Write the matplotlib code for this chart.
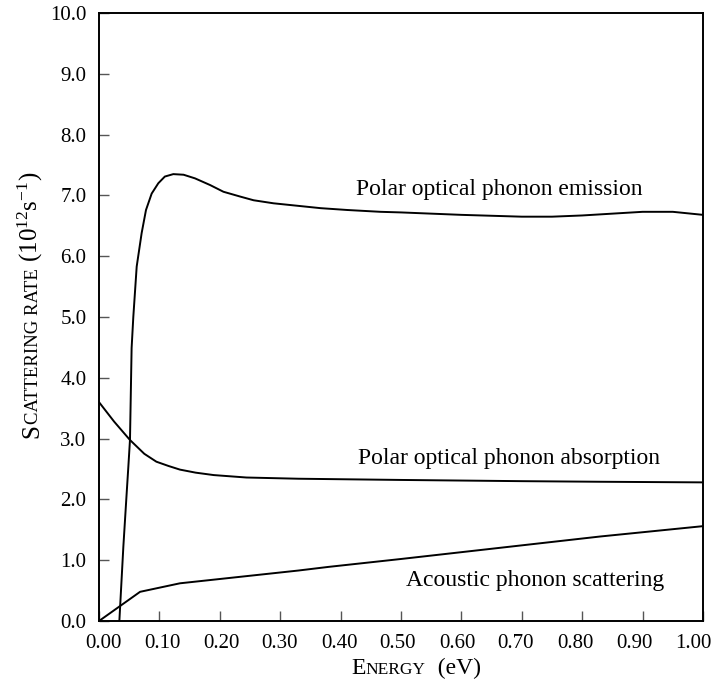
import matplotlib
matplotlib.use("Agg")
import matplotlib.pyplot as plt
import matplotlib.transforms as mtransforms

plt.rcParams['font.family'] = ['Liberation Serif', 'DejaVu Serif']
plt.rcParams['mathtext.fontset'] = 'custom'
plt.rcParams['mathtext.rm'] = 'Liberation Serif'
plt.rcParams['mathtext.it'] = 'Liberation Serif:italic'

# curves (energy in eV, rate in 1e12 1/s)
emis_x = [0.0337, 0.0403, 0.0458, 0.0486, 0.0513, 0.0540, 0.0568, 0.0624, 0.0706,
          0.0778, 0.0872, 0.0982, 0.109, 0.123, 0.140, 0.159, 0.184, 0.206,
          0.234, 0.256, 0.289, 0.328, 0.367, 0.411, 0.466, 0.500, 0.600,
          0.700, 0.750, 0.800, 0.850, 0.900, 0.950, 1.000]
emis_y = [0.0, 1.22, 2.10, 2.54, 2.98, 4.49, 5.00, 5.83, 6.38,
          6.76, 7.03, 7.20, 7.31, 7.35, 7.34, 7.28, 7.17, 7.06,
          6.98, 6.92, 6.87, 6.83, 6.79, 6.76, 6.73, 6.72, 6.68,
          6.65, 6.65, 6.67, 6.70, 6.73, 6.73, 6.68]

abs_x = [0.0, 0.025, 0.051, 0.075, 0.095, 0.115, 0.134, 0.160, 0.190, 0.244,
         0.330, 0.500, 0.700, 0.830, 1.000]
abs_y = [3.60, 3.28, 2.98, 2.75, 2.62, 2.55, 2.49, 2.44, 2.40, 2.36,
         2.34, 2.32, 2.30, 2.29, 2.28]

ac_x = [0.0, 0.068, 0.134, 0.330, 0.380, 0.500, 0.830, 1.000]
ac_y = [0.0, 0.48, 0.62, 0.83, 0.89, 1.02, 1.39, 1.56]

xticks = [0.0, 0.1, 0.2, 0.3, 0.4, 0.5, 0.6, 0.7, 0.8, 0.9, 1.0]
yticks = [0.0, 1.0, 2.0, 3.0, 4.0, 5.0, 6.0, 7.0, 8.0, 9.0, 10.0]

labels = ["Polar optical phonon emission", "Polar optical phonon absorption",
          "Acoustic phonon scattering"]
label_pos = [(0.426, 7.09), (0.429, 2.68), (0.508, 0.67)]

W, H = 713, 689
fig = plt.figure(figsize=(W / 100, H / 100), dpi=100)
ax = fig.add_axes([99 / W, 1 - 621 / H, 604 / W, 608 / H])

for xs, ys in [(emis_x, emis_y), (abs_x, abs_y), (ac_x, ac_y)]:
    ax.plot(xs, ys, color='black', lw=1.4, solid_joinstyle='round')

for txt, (lx, ly) in zip(labels, label_pos):
    ax.text(lx, ly, txt, fontsize=17, ha='left', va='center')

ax.set_xlim(0, 1)
ax.set_ylim(0, 10)
ax.set_xticks(xticks)
ax.set_yticks(yticks)
ax.set_xticklabels([f"{v:.2f}" for v in xticks], fontsize=15)
ax.set_yticklabels([f"{v:.1f}" for v in yticks], fontsize=15)
ax.tick_params(direction='in', length=7, width=1, color='#555555')
ax.tick_params(axis='x', pad=9)
ax.tick_params(axis='y', pad=9)
for s in ax.spines.values():
    s.set_linewidth(1.4)

# x tick labels in the original sit a bit closer together than the ticks
for v, lab in zip(xticks, ax.get_xticklabels()):
    dx = (4 - 14 * v) / 100
    lab.set_transform(lab.get_transform() +
                      mtransforms.ScaledTranslation(dx, 0, fig.dpi_scale_trans))

fig.canvas.draw()
r = fig.canvas.get_renderer()


def place(parts, cx, base, rotation):
    # small caps made of pieces set one after another, centred on cx (pixels)
    widths = []
    for txt, size in parts:
        t = fig.text(0, 0, txt, fontsize=size)
        widths.append(t.get_window_extent(r).width)
        t.remove()
    pos = -sum(widths) / 2
    for (txt, size), w in zip(parts, widths):
        if rotation == 0:
            fig.text((cx + pos) / W, 1 - base / H, txt, fontsize=size,
                     rotation_mode='anchor', ha='left', va='baseline')
        else:
            fig.text(base / W, 1 - (cx - pos) / H, txt, fontsize=size,
                     rotation=90, rotation_mode='anchor', ha='left', va='baseline')
        pos += w


place([("E", 17), ("NERGY", 12.5), ("  (eV)", 17)], 416, 674, 0)
place([("S", 18), ("CATTERING RATE", 13.5), (r" (10$^{12}$s$^{-1}$)", 18)], 305, 38, 90)

fig.savefig("out.png", dpi=100)
